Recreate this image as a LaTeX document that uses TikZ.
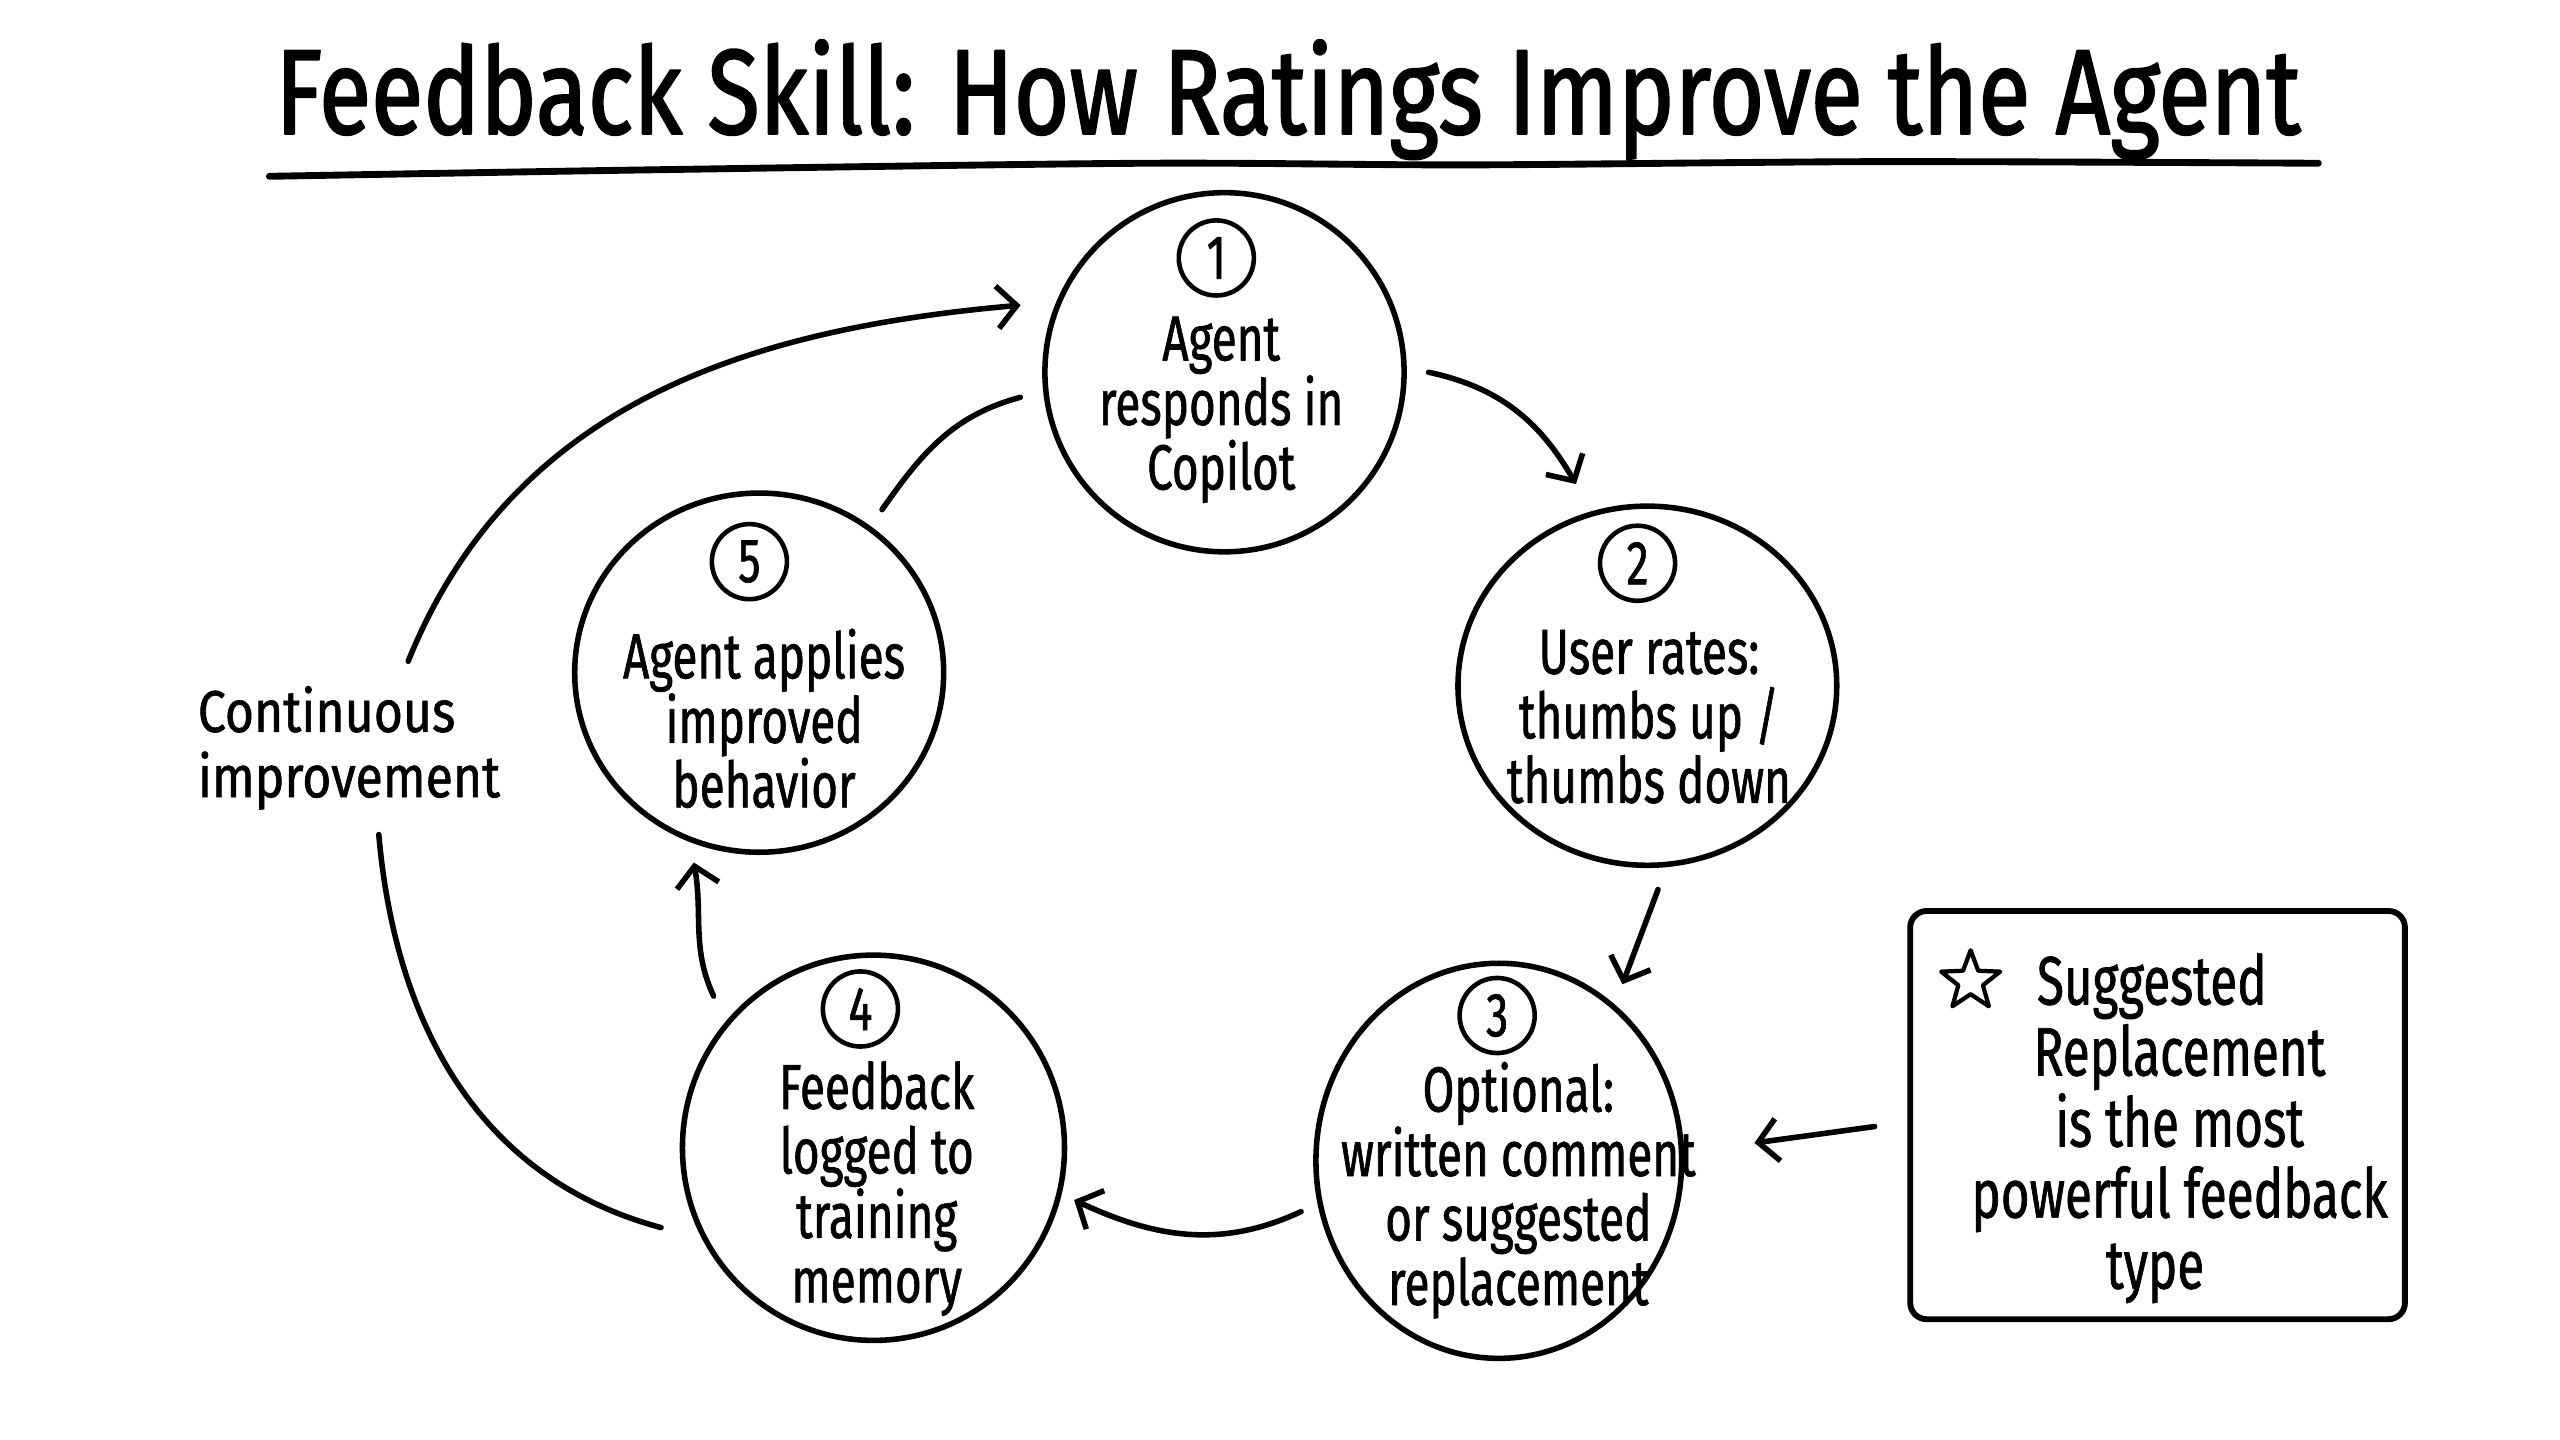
\documentclass[tikz,border=0pt]{standalone}
\usepackage{fontspec}
\setmainfont{Fira Sans}[FakeStretch=0.72,FakeBold=1]
\newfontfamily\roundfont{Fira Sans}[FakeStretch=0.85,FakeBold=1]
\newfontfamily\titlefont{Fira Sans}[FakeStretch=0.79,FakeBold=1.5]
\usetikzlibrary{arrows.meta,shapes.geometric,calc}
\tikzset{
  stepnode/.style={draw, ellipse, line width=3.4pt, inner sep=0pt},
  numnode/.style={draw, circle, line width=2.8pt, minimum size=46pt, inner sep=0pt, font=\fontsize{38}{38}\selectfont},
  steptext/.style={align=center, font=\fontsize{39}{39.5}\selectfont},
  conn/.style={line width=3.4pt, -{Straight Barb[length=12pt,width=26pt]}},
  plainconn/.style={line width=3.4pt},
}
\begin{document}
\begin{tikzpicture}[x=1pt,y=1pt,line cap=round,line join=round]
\fill[white] (0,0) rectangle (1568,-882);
\path[use as bounding box] (0,0) rectangle (1568,-882);

% title
\node[anchor=base, inner sep=0pt, font=\titlefont\fontsize{74}{80}\selectfont] (title) at (789,-82) {Feedback Skill: How Ratings Improve the Agent};
\draw[line width=4.2pt] plot[smooth] coordinates {(165,-108) (400,-104) (700,-100) (900,-101) (1150,-99) (1420,-100)};

% step circles
\node[stepnode, minimum width=220pt, minimum height=220pt] (c1) at (750,-228) {};
\node[stepnode, minimum width=232pt, minimum height=220pt] (c2) at (1009,-420) {};
\node[stepnode, minimum width=224pt, minimum height=242pt] (c3) at (918,-711) {};
\node[stepnode, minimum width=234pt, minimum height=236pt] (c4) at (535,-703) {};
\node[stepnode, minimum width=226pt, minimum height=220pt] (c5) at (465,-412) {};

% numbers
\node[numnode] (n1) at (745,-158) {1};
\node[numnode] (n2) at (1003,-345) {2};
\node[numnode] (n3) at (917,-622) {3};
\node[numnode] (n4) at (527,-618) {4};
\node[numnode] (n5) at (459,-344) {5};

% texts
\node[steptext] (t1) at (748,-251) {Agent\\responds in\\Copilot};
\node[steptext] (t2) at (1010,-439) {User rates:\\thumbs up /\\thumbs down};
\node[steptext] (t3) at (930,-729) {Optional:\\written comment\\or suggested\\replacement};
\node[steptext] (t4) at (537,-728) {Feedback\\logged to\\training\\memory};
\node[steptext] (t5) at (468,-440) {Agent applies\\improved\\behavior};

% side box
\node[draw, rounded corners=10pt, line width=3.6pt, minimum width=303pt, minimum height=250pt] (box) at (1321.5,-683) {};
\node[star, star points=5, star point ratio=2.4, draw, line width=2.6pt, minimum size=38pt, inner sep=0pt] (star) at (1207,-601) {};
\node[align=center, font=\fontsize{42}{43.5}\selectfont] (boxtext) at (1335,-691) {Suggested\hspace*{34pt}\\Replacement\\is the most\\powerful feedback\\type\hspace*{30pt}};

% continuous label
\node[anchor=north west, align=left, inner sep=0pt, font=\roundfont\fontsize{36}{40}\selectfont] (cont) at (121,-420) {Continuous\\improvement};

% connectors
\draw[conn] ($(c1)+(0:125)$) to[out=-12,in=120] ($(c2)+(109.5:131)$);
\draw[conn] ($(c2)+(-87:125)$) -- ($(c3)+(55:132)$);
\draw[conn] ($(c3)+(-165.6:125)$) to[out=-155,in=-25] ($(c4)+(-14.6:127)$);
\draw[conn] ($(c4)+(136.5:135)$) to[out=115,in=-80] ($(c5)+(-109:123)$);
\draw[plainconn] ($(c5)+(53:125)$) to[out=55,in=-165] ($(c1)+(-173:126)$);
\draw[conn] ($(box.west)+(-20,-7)$) -- ($(c3)+(4:157)$);
\draw[plainconn] ($(c4)+(200.6:139)$) to[out=165,in=-85] ($(cont.south west)+(111,-15)$);
\draw[conn] ($(cont.north west)+(129,15)$) to[out=68,in=185] ($(c1)+(161.8:131.5)$);
\end{tikzpicture}
\end{document}
